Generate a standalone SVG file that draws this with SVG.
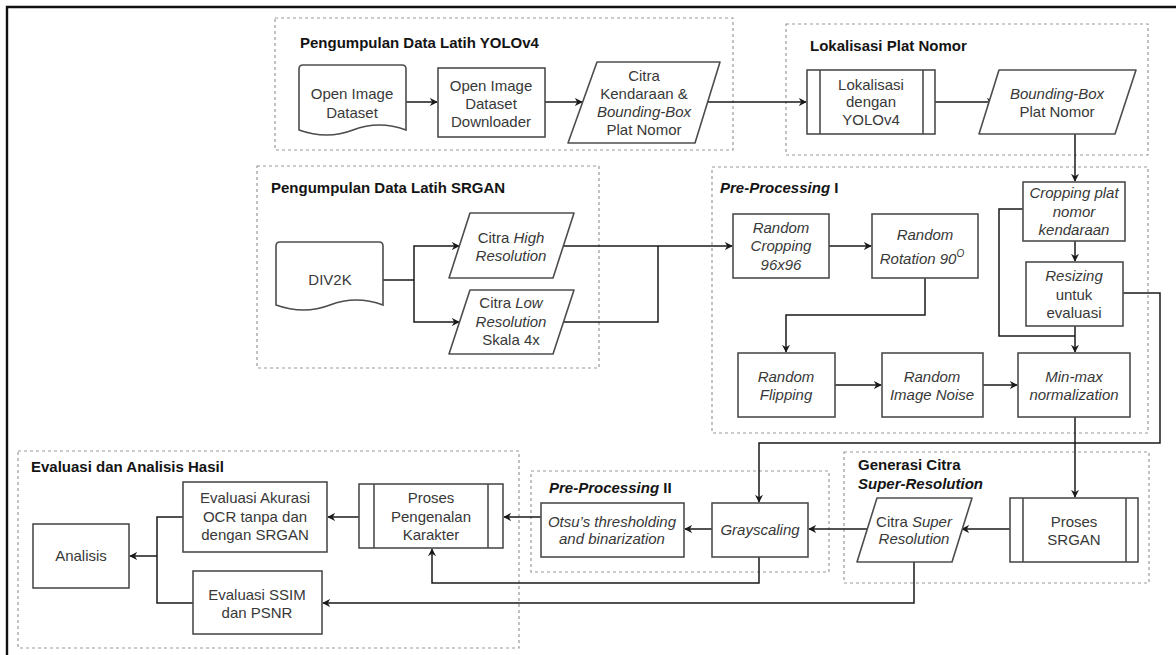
<svg xmlns="http://www.w3.org/2000/svg" width="1176" height="655" viewBox="0 0 1176 655">
  <defs>
    <marker id="arr" viewBox="0 0 10 10" refX="9" refY="5" markerWidth="8" markerHeight="8" markerUnits="userSpaceOnUse" orient="auto">
      <path d="M0,0 L10,5 L0,10 L3,5 z" fill="#1a1a1a"/>
    </marker>
    <style>
      .grp { fill: none; stroke: #9a9a9a; stroke-width: 1.2; stroke-dasharray: 3 3; }
      .box { fill: #fff; stroke: #4d4d4d; stroke-width: 1.6; }
      .inner { fill: none; stroke: #4d4d4d; stroke-width: 1.6; }
      .t { font-family: "Liberation Sans", Arial, sans-serif; font-size: 15px; fill: #383838; text-anchor: middle; }
      .h { font-family: "Liberation Sans", Arial, sans-serif; font-size: 15px; font-weight: bold; fill: #141414; }
      .i { font-style: italic; }
      .con { fill: none; stroke: #1a1a1a; stroke-width: 1.5; }
      .arrow { marker-end: url(#arr); }
    </style>
  </defs>

  <rect x="0" y="0" width="1176" height="655" fill="#fff"/>

  <!-- outer frame -->
  <path d="M7,655 V7 H1176" fill="none" stroke="#111" stroke-width="2.4"/>

  <!-- section frames -->
  <g id="sections">
    <rect class="grp" x="275" y="18" width="458" height="132"/>
    <text class="h" x="300" y="48">Pengumpulan Data Latih YOLOv4</text>

    <rect class="grp" x="786" y="24" width="362" height="131"/>
    <text class="h" x="810" y="51">Lokalisasi Plat Nomor</text>

    <rect class="grp" x="257" y="166" width="342" height="202"/>
    <text class="h" x="271" y="193">Pengumpulan Data Latih SRGAN</text>

    <rect class="grp" x="712" y="167" width="436" height="266"/>
    <text class="h" x="720" y="193"><tspan class="i">Pre-Processing</tspan> I</text>

    <rect class="grp" x="844" y="452" width="305" height="131"/>
    <text class="h" x="858" y="470">Generasi Citra</text>
    <text class="h i" x="858" y="489">Super-Resolution</text>

    <rect class="grp" x="531" y="471" width="298" height="101"/>
    <text class="h" x="549" y="493"><tspan class="i">Pre-Processing</tspan> II</text>

    <rect class="grp" x="18" y="451" width="501" height="197"/>
    <text class="h" x="31" y="472">Evaluasi dan Analisis Hasil</text>
  </g>

  <!-- connectors -->
  <g id="connectors">
    <path class="con arrow" d="M406,102 H437"/>
    <path class="con arrow" d="M545,102 H582"/>
    <path class="con arrow" d="M707,102 H806"/>
    <path class="con arrow" d="M935,102 H994"/>
    <path class="con arrow" d="M1075,134 V181"/>

    <path class="con" d="M383,280 H414"/>
    <path class="con arrow" d="M414,280 V246 H459"/>
    <path class="con arrow" d="M414,280 V322 H459"/>
    <path class="con arrow" d="M563,246 H732"/>
    <path class="con" d="M563,322 H658 V246"/>

    <path class="con arrow" d="M829,246 H871"/>
    <path class="con arrow" d="M925,278 V315 H786 V352"/>
    <path class="con arrow" d="M835,385 H881"/>
    <path class="con arrow" d="M983,385 H1017"/>
    <path class="con arrow" d="M1075,241 V261"/>
    <path class="con arrow" d="M1075,326 V352"/>
    <path class="con" d="M1023,209 H999 V336 H1075"/>
    <path class="con arrow" d="M1123,293 H1160 V443 H759 V502"/>
    <path class="con arrow" d="M1075,417 V497"/>

    <path class="con arrow" d="M1010,529 H962"/>
    <path class="con arrow" d="M867,529 H809"/>
    <path class="con arrow" d="M914,562 V603 H323"/>
    <path class="con arrow" d="M712,529 H685"/>
    <path class="con arrow" d="M541,517 H504"/>
    <path class="con arrow" d="M759,557 V583 H432 V549"/>
    <path class="con arrow" d="M359,517 H328"/>
    <path class="con" d="M183,517 H157 V603 H193"/>
    <path class="con arrow" d="M157,556 H130"/>
  </g>

  <!-- nodes -->
  <g id="open-image-dataset">
    <path class="box" d="M303,65 H402 Q406,65 406,69 V130 Q379,120 353,130 T299,130 V69 Q299,65 303,65 Z"/>
    <text class="t" x="352" y="99">Open Image</text>
    <text class="t" x="352" y="118">Dataset</text>
  </g>

  <g id="oid-downloader">
    <rect class="box" x="438" y="68" width="107" height="69"/>
    <text class="t" x="491" y="91">Open Image</text>
    <text class="t" x="491" y="109">Dataset</text>
    <text class="t" x="491" y="127">Downloader</text>
  </g>

  <g id="citra-kendaraan">
    <polygon class="box" stroke-linejoin="round" points="597,62 720,62 695,143 568,143"/>
    <text class="t" x="644" y="81">Citra</text>
    <text class="t" x="644" y="99">Kendaraan &amp;</text>
    <text class="t i" x="644" y="117">Bounding-Box</text>
    <text class="t" x="644" y="135">Plat Nomor</text>
  </g>

  <g id="lokalisasi-yolov4">
    <rect class="box" x="807" y="70" width="128" height="64"/>
    <path class="inner" d="M820,70 V134 M923,70 V134"/>
    <text class="t" x="871" y="90">Lokalisasi</text>
    <text class="t" x="871" y="107">dengan</text>
    <text class="t" x="871" y="125">YOLOv4</text>
  </g>

  <g id="bbox-plat">
    <polygon class="box" stroke-linejoin="round" points="999,70 1136,70 1115,134 979,134"/>
    <text class="t i" x="1057" y="99">Bounding-Box</text>
    <text class="t" x="1057" y="117">Plat Nomor</text>
  </g>

  <g id="div2k">
    <path class="box" d="M280,242 H379 Q383,242 383,246 V305 Q356,295 330,305 T276,305 V246 Q276,242 280,242 Z"/>
    <text class="t" x="330" y="285">DIV2K</text>
  </g>

  <g id="citra-hr">
    <polygon class="box" stroke-linejoin="round" points="470,213 574,213 553,278 449,278"/>
    <text class="t" x="511" y="243">Citra <tspan class="i">High</tspan></text>
    <text class="t i" x="511" y="261">Resolution</text>
  </g>

  <g id="citra-lr">
    <polygon class="box" stroke-linejoin="round" points="470,290 574,290 553,354 449,354"/>
    <text class="t" x="511" y="308">Citra <tspan class="i">Low</tspan></text>
    <text class="t i" x="511" y="327">Resolution</text>
    <text class="t" x="511" y="345">Skala 4x</text>
  </g>

  <g id="random-cropping">
    <rect class="box" x="733" y="214" width="96" height="64"/>
    <text class="t i" x="781" y="233">Random</text>
    <text class="t i" x="781" y="251">Cropping</text>
    <text class="t i" x="781" y="270">96x96</text>
  </g>

  <g id="random-rotation">
    <rect class="box" x="872" y="214" width="106" height="64"/>
    <text class="t i" x="925" y="240">Random</text>
    <text class="t i" x="922" y="264">Rotation 90<tspan font-size="10" dy="-7">O</tspan></text>
  </g>

  <g id="cropping-plat">
    <rect class="box" x="1023" y="182" width="102" height="59"/>
    <text class="t i" x="1074" y="198">Cropping plat</text>
    <text class="t i" x="1074" y="217">nomor</text>
    <text class="t i" x="1074" y="235">kendaraan</text>
  </g>

  <g id="resizing">
    <rect class="box" x="1026" y="262" width="97" height="64"/>
    <text class="t i" x="1074" y="281">Resizing</text>
    <text class="t" x="1074" y="300">untuk</text>
    <text class="t" x="1074" y="318">evaluasi</text>
  </g>

  <g id="random-flipping">
    <rect class="box" x="738" y="353" width="97" height="64"/>
    <text class="t i" x="786" y="382">Random</text>
    <text class="t i" x="786" y="400">Flipping</text>
  </g>

  <g id="random-noise">
    <rect class="box" x="882" y="353" width="101" height="64"/>
    <text class="t i" x="932" y="382">Random</text>
    <text class="t i" x="932" y="400">Image Noise</text>
  </g>

  <g id="minmax">
    <rect class="box" x="1018" y="353" width="112" height="64"/>
    <text class="t i" x="1074" y="382">Min-max</text>
    <text class="t i" x="1074" y="400">normalization</text>
  </g>

  <g id="proses-srgan">
    <rect class="box" x="1010" y="498" width="128" height="64"/>
    <path class="inner" d="M1023,498 V562 M1126,498 V562"/>
    <text class="t" x="1074" y="527">Proses</text>
    <text class="t" x="1074" y="545">SRGAN</text>
  </g>

  <g id="citra-sr">
    <polygon class="box" stroke-linejoin="round" points="877,498 972,498 952,562 857,562"/>
    <text class="t" x="914" y="527">Citra <tspan class="i">Super</tspan></text>
    <text class="t i" x="914" y="544">Resolution</text>
  </g>

  <g id="grayscaling">
    <rect class="box" x="712" y="503" width="96" height="54"/>
    <text class="t i" x="760" y="535">Grayscaling</text>
  </g>

  <g id="otsu">
    <rect class="box" x="541" y="503" width="143" height="54"/>
    <text class="t i" x="612" y="527">Otsu’s thresholding</text>
    <text class="t i" x="612" y="544">and binarization</text>
  </g>

  <g id="pengenalan-karakter">
    <rect class="box" x="359" y="484" width="144" height="64"/>
    <path class="inner" d="M374,484 V548 M488,484 V548"/>
    <text class="t" x="431" y="503">Proses</text>
    <text class="t" x="431" y="522">Pengenalan</text>
    <text class="t" x="431" y="540">Karakter</text>
  </g>

  <g id="evaluasi-akurasi">
    <rect class="box" x="183" y="482" width="144" height="70"/>
    <text class="t" x="255" y="503">Evaluasi Akurasi</text>
    <text class="t" x="255" y="522">OCR tanpa dan</text>
    <text class="t" x="255" y="540">dengan SRGAN</text>
  </g>

  <g id="analisis">
    <rect class="box" x="33" y="524" width="96" height="64"/>
    <text class="t" x="81" y="561">Analisis</text>
  </g>

  <g id="evaluasi-ssim">
    <rect class="box" x="193" y="571" width="129" height="63"/>
    <text class="t" x="257" y="600">Evaluasi SSIM</text>
    <text class="t" x="257" y="618">dan PSNR</text>
  </g>
</svg>
